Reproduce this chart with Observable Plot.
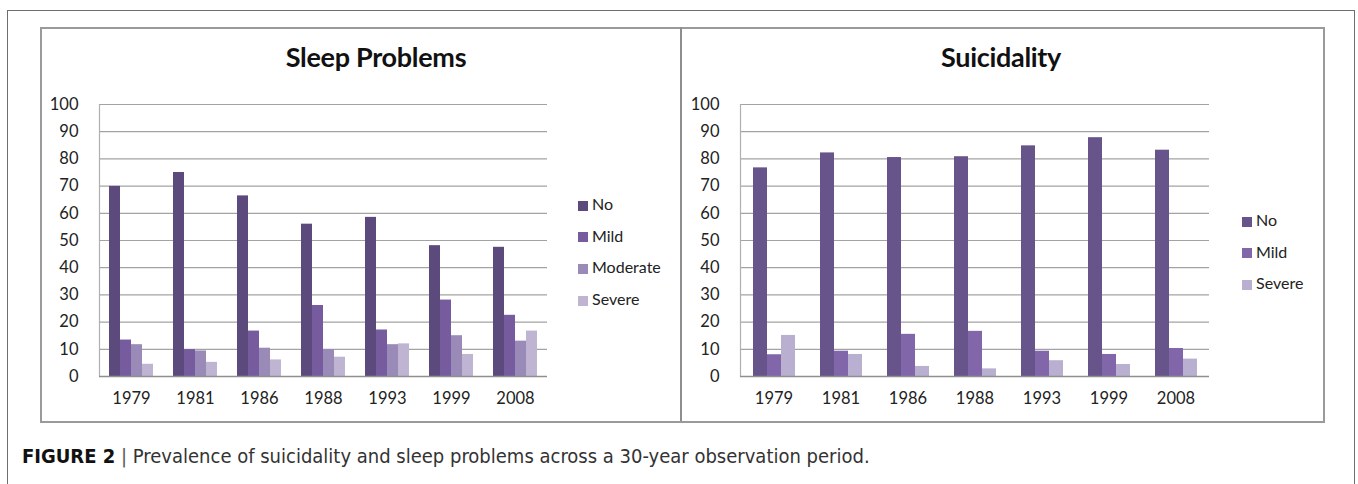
<!DOCTYPE html>
<html>
<head>
<meta charset="utf-8">
<script src="https://cdn.jsdelivr.net/npm/d3@7"></script>
<script src="https://cdn.jsdelivr.net/npm/@observablehq/plot@0.6"></script>
<style>
  html, body { margin: 0; padding: 0; background: #fff; }
  body { width: 1358px; height: 484px; overflow: hidden; position: relative; font-family: Lato, "Open Sans", sans-serif; }
  .abs { position: absolute; }
  #outer { left: 7px; top: 10px; width: 1346px; height: 520px; border: 1.5px solid #6e6e6e; border-bottom: none; }
  #inner { left: 40px; top: 27px; width: 1281px; height: 392px; border: 2px solid #9a9a9a; }
  #divider { left: 680px; top: 27px; width: 2px; height: 394px; background: #8e8e8e; }
  .title { font-family: Lato, "Open Sans", sans-serif; font-weight: 700; font-size: 27px; color: #111; text-align: center; width: 300px; top: 40px; letter-spacing: -0.3px; }
  .legend { font-family: Lato, "Open Sans", sans-serif; font-size: 16px; color: #222; }
  .legend .item { position: absolute; left: 0; white-space: nowrap; height: 20px; line-height: 20px; }
  .legend .sw { display: inline-block; width: 10px; height: 10px; margin-right: 4px; vertical-align: -0.5px; }
  #caption { left: 22px; top: 444px; font-family: "Liberation Sans Narrow", "DejaVu Sans Condensed", "Liberation Sans", sans-serif; font-size: 20px; color: #333; white-space: nowrap; }
  #caption b { color: #111; }
  #caption .bar { color: #555; }
</style>
</head>
<body>
<div id="outer" class="abs"></div>
<div id="inner" class="abs"></div>
<div id="divider" class="abs"></div>
<div id="t1" class="abs title" style="left:226px">Sleep Problems</div>
<div id="t2" class="abs title" style="left:851px">Suicidality</div>
<div id="p1" class="abs" style="left:41px; top:90px"></div>
<div id="p2" class="abs" style="left:681px; top:90px"></div>
<div id="l1" class="abs legend" style="left:578px; top:194px"></div>
<div id="l2" class="abs legend" style="left:1242px; top:210px"></div>
<div id="caption" class="abs"><b>FIGURE 2</b> <span class="bar">|</span> Prevalence of suicidality and sleep problems across a 30-year observation period.</div>
<script>
// ---- data ----
const years = ["1979", "1981", "1986", "1988", "1993", "1999", "2008"];
const yTicks = [0, 10, 20, 30, 40, 50, 60, 70, 80, 90, 100];

const sleepSeries = ["No", "Mild", "Moderate", "Severe"];
const sleepNo       = [69.9, 75.0, 66.4, 56.0, 58.5, 48.1, 47.5];
const sleepMild     = [13.4, 9.9, 16.7, 26.1, 17.1, 28.1, 22.5];
const sleepModerate = [11.7, 9.4, 10.4, 9.9, 11.7, 15.0, 13.0];
const sleepSevere   = [4.5, 5.2, 6.1, 7.1, 12.0, 8.1, 16.7];

const suicSeries = ["No", "Mild", "Severe"];
const suicNo     = [76.7, 82.2, 80.5, 80.8, 84.8, 87.8, 83.2];
const suicMild   = [8.0, 9.3, 15.5, 16.6, 9.3, 8.1, 10.3];
const suicSevere = [15.1, 8.1, 3.7, 2.8, 5.8, 4.4, 6.4];

// ---- styles ----
const sleepColors = ["#5d4a7c", "#765c9f", "#9a8ab7", "#bfb5d2"];
const suicColors  = ["#66548a", "#8166aa", "#b9afd1"];

function table(series, lists) {
  const rows = [];
  years.forEach((year, i) => series.forEach((s, j) => rows.push({year, series: s, value: lists[j][i]})));
  return rows;
}

function chart(series, lists, colors, opt) {
  const data = table(series, lists);
  return Plot.plot({
    width: opt.width, height: 330,
    marginLeft: opt.marginLeft, marginRight: opt.marginRight, marginTop: 14, marginBottom: 44,
    style: {fontFamily: "Lato, 'Open Sans', sans-serif", fontSize: "16px", color: "#222", background: "transparent", overflow: "visible"},
    fx: {domain: years, padding: 0, label: null},
    x: {domain: series, paddingInner: 0, paddingOuter: opt.pad, axis: null},
    y: {domain: [0, 100]},
    color: {domain: series, range: colors},
    marks: [
      Plot.gridY(yTicks, {stroke: "#a3a3a3", strokeOpacity: 1, strokeWidth: 1.2}),
      Plot.frame({anchor: "left", facetAnchor: "left", stroke: "#b0b0b0", strokeWidth: 1.2}),
      Plot.barY(data, {fx: "year", x: "series", y: "value", fill: "series"}),
      Plot.ruleY([0], {stroke: "#8f8f8f", strokeWidth: 1.5}),
      Plot.axisY(yTicks, {tickSize: 0, tickPadding: 21, fontSize: 16.5, label: null}),
      Plot.axisFx({anchor: "bottom", tickSize: 0, tickPadding: 16, fontSize: 16.5, label: null})
    ]
  });
}

document.getElementById("p1").appendChild(chart(sleepSeries,
  [sleepNo, sleepMild, sleepModerate, sleepSevere], sleepColors,
  {width: 640, marginLeft: 55, marginRight: 132, pad: 0.74}));
document.getElementById("p2").appendChild(chart(suicSeries,
  [suicNo, suicMild, suicSevere], suicColors,
  {width: 641, marginLeft: 56, marginRight: 110, pad: 0.763}));

function legend(el, series, colors) {
  series.forEach((s, i) => {
    const d = document.createElement("div");
    d.className = "item";
    d.style.top = (i * 31.7) + "px";
    d.innerHTML = `<span class="sw" style="background:${colors[i]}"></span>${s}`;
    el.appendChild(d);
  });
}
legend(document.getElementById("l1"), sleepSeries, sleepColors);
legend(document.getElementById("l2"), suicSeries, suicColors);
</script>
</body>
</html>
